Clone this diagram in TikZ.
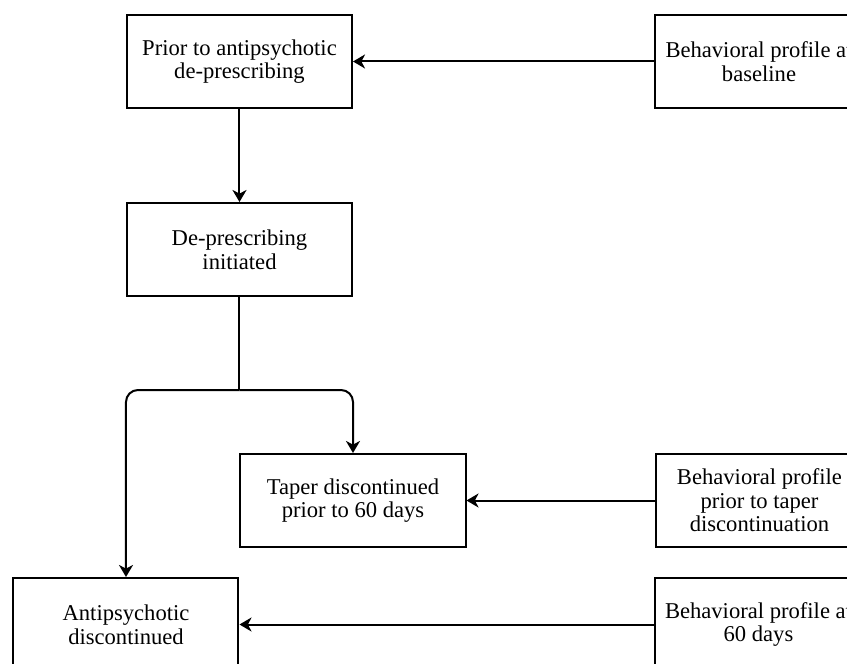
\documentclass[tikz,border=0pt]{standalone}
\usepackage{fontspec}
\setmainfont{Liberation Serif}
\usepackage{tikz}
\usetikzlibrary{arrows.meta, positioning}

\tikzset{
  box/.style = {draw, line width=1pt, minimum width=112.5pt, minimum height=46.5pt,
                align=center, inner sep=2pt, font=\fontsize{11.3}{11.8}\selectfont},
  sidebox/.style = {box, minimum width=104pt}
}

\begin{document}
\begin{tikzpicture}[>={Stealth[length=6pt, width=7pt, inset=1.8pt]},
      line width = 1pt]
  \useasboundingbox (-119.75pt,30.75pt) rectangle (303.75pt,-301.25pt);
  \clip (-119.75pt,30.75pt) rectangle (303.75pt,-301.25pt);
  \node[box] (prior) at (0,0) {Prior to antipsychotic\\de-prescribing};
  \node[sidebox, right=150.5pt of prior] (profbase) {Behavioral profile at\\baseline};
  \node[box, below=46.5pt of prior] (init) {De-prescribing\\initiated};
  \coordinate[below=46.5pt of init] (split);
  \node[box, below=78pt of init.south east] (taper) {Taper discontinued\\prior to 60 days};
  \node[sidebox, right=94pt of taper] (proftaper) {Behavioral profile\\prior to taper\\discontinuation};
  \node[box, below=140pt of init.south west] (disc) {Antipsychotic\\discontinued};
  \node[sidebox, right=207pt of disc] (prof60) {Behavioral profile at\\60 days};
  \path[->] (profbase) edge (prior)
            (prior) edge (init)
            (proftaper) edge (taper)
            (prof60) edge (disc);
  \draw (init) -- (split);
  \draw[->, rounded corners=6pt] (split) -| (taper);
  \draw[->, rounded corners=6pt] (split) -| (disc);
\end{tikzpicture}
\end{document}
